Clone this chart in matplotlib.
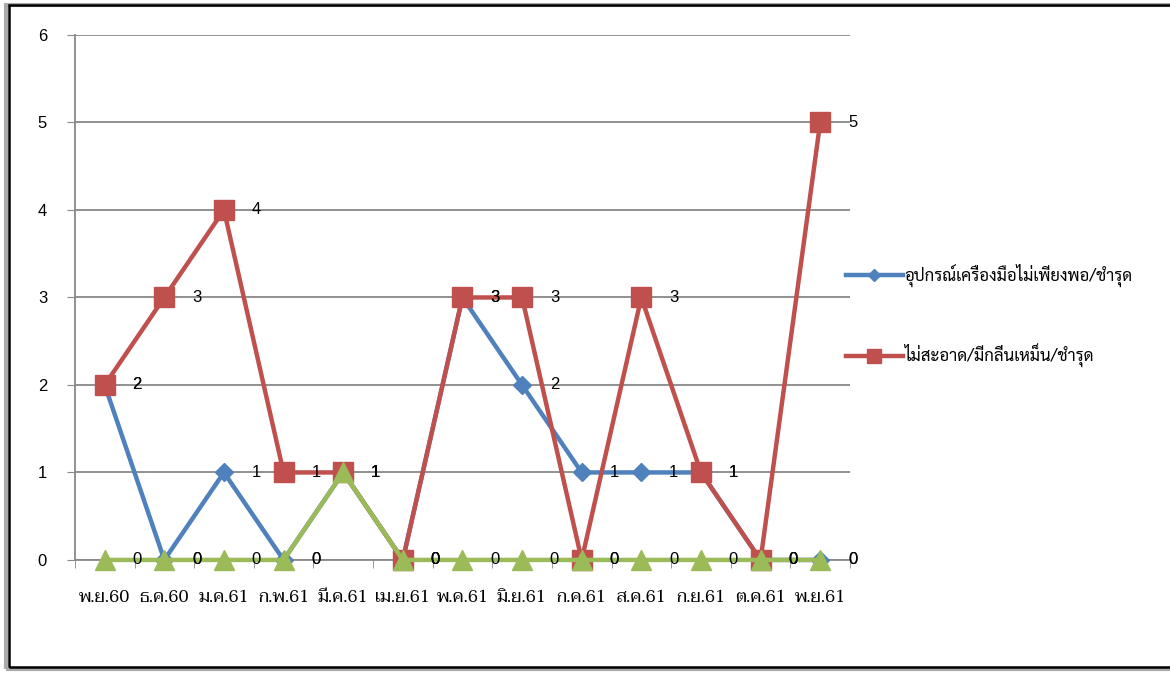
import glob
import matplotlib
matplotlib.use('Agg')
import matplotlib.pyplot as plt
from matplotlib import font_manager
from matplotlib.patches import Rectangle

for p in glob.glob('/usr/share/fonts/**/Taviraj-Regular.ttf', recursive=True) + \
         glob.glob('/usr/share/fonts/**/Sarabun-Regular.ttf', recursive=True):
    font_manager.fontManager.addfont(p)

months = ['พ.ย.60', 'ธ.ค.60', 'ม.ค.61', 'ก.พ.61', 'มี.ค.61', 'เม.ย.61', 'พ.ค.61',
          'มิ.ย.61', 'ก.ค.61', 'ส.ค.61', 'ก.ย.61', 'ต.ค.61', 'พ.ย.61']
tools = [2, 0, 1, 0, 1, 0, 3, 2, 1, 1, 1, 0, 0]
dirty = [2, 3, 4, 1, 1, 0, 3, 3, 0, 3, 1, 0, 5]
other = [0, 0, 0, 0, 1, 0, 0, 0, 0, 0, 0, 0, 0]

num_font = ['Liberation Sans', 'DejaVu Sans']
thai_sans = ['Sarabun', 'DejaVu Sans']
thai_serif = ['Taviraj', 'Sarabun', 'DejaVu Sans']

fig = plt.figure(figsize=(11.7, 6.73), dpi=100)
ax = fig.add_axes([0.064, 0.168, 0.6625, 0.78])

x = list(range(len(months)))
series = [
    (tools, '#4F81BD', 'D', 9, 'อุปกรณ์เครื่องมือไม่เพียงพอ/ชำรุด'),
    (dirty, '#C0504D', 's', 14, 'ไม่สะอาด/มีกลิ่นเหม็น/ชำรุด'),
    (other, '#9BBB59', '^', 15, None),
]
for vals, c, m, ms, lab in series:
    ax.plot(x, vals, color=c, lw=3.2, marker=m, markersize=ms, clip_on=False,
            markeredgecolor=c, label=lab if lab else '_nolegend_', zorder=3)
    for xi, v in zip(x, vals):
        ax.annotate(str(v), (xi, v), xytext=(20, 0), textcoords='offset points',
                    ha='left', va='center', fontsize=12, family=num_font, zorder=4)

ax.set_xlim(-0.5, len(months) - 0.5)
ax.set_ylim(0, 6)
ax.set_yticks(range(7))
ax.set_xticks(x)
ax.set_xticklabels(months, family=thai_serif, fontsize=12.5)
ax.set_xticks([i - 0.5 for i in range(len(months) + 1)], minor=True)
ax.tick_params(axis='x', which='major', length=0, pad=22)
ax.tick_params(axis='x', which='minor', length=6, color='#888888', direction='out')
ax.tick_params(axis='y', length=6, color='#888888', direction='out', pad=14)
for t in ax.get_yticklabels():
    t.set_family(num_font)
    t.set_fontsize(12)
ax.grid(axis='y', color='#888888', lw=1.3)
ax.set_axisbelow(True)
for s in ['top', 'right']:
    ax.spines[s].set_visible(False)
ax.spines['left'].set_color('#888888')
ax.spines['bottom'].set_color('#888888')
ax.spines['left'].set_linewidth(1.3)
ax.spines['bottom'].set_linewidth(1.3)

leg = ax.legend(loc='center left', bbox_to_anchor=(0.995, 0.465), frameon=False,
                prop={'family': thai_sans, 'size': 12}, handlelength=3.4,
                handletextpad=0.1, labelspacing=3.4, markerscale=0.7,
                borderaxespad=0, borderpad=0)

fig.patches.append(Rectangle((0.005, 0.006), 1.2, 0.986, transform=fig.transFigure,
                             fill=False, ec='#aaaaaa', lw=3, zorder=0))
fig.patches.append(Rectangle((0.0075, 0.009), 1.2, 0.983, transform=fig.transFigure,
                             fill=False, ec='black', lw=1.8, zorder=1))

fig.savefig('out.png')
